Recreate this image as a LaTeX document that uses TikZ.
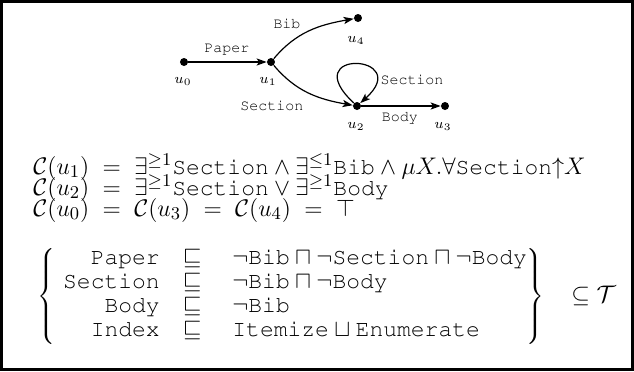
\documentclass[tikz,border=0pt]{standalone}
\usetikzlibrary{arrows.meta}
\newcommand\cw[1]{\mbox{\fontencoding{T1}\fontfamily{pcr}\fontsize{11.5}{12}\selectfont #1}}
\newcommand\cl[1]{\mbox{\fontencoding{T1}\fontfamily{pcr}\selectfont #1}}
\begin{document}
\begin{tikzpicture}[x=0.5pt,y=-0.5pt,
  dot/.style={circle,fill=black,inner sep=0pt,minimum size=4pt},
  edge/.style={line width=0.6pt,-{Stealth[length=5pt,width=3.6pt,inset=1.2pt]}},
  lbl/.style={inner sep=0pt,font=\fontsize{7.5}{9}\selectfont},
  eq/.style={inner sep=0pt,anchor=base west,font=\fontsize{12.3}{12}\selectfont}]
\useasboundingbox (0,0) rectangle (634,371);
\draw[line width=1.5pt] (1.5,1.5) rectangle (632.5,369.5);
% graph
\node[dot] (u0) at (184,62) {};
\node[dot] (u1) at (271,62) {};
\node[dot] (u4) at (358,18) {};
\node[dot] (u2) at (357,106) {};
\node[dot] (u3) at (445,106) {};
\node[lbl] (l0) at (183,81) {$u_0$};
\node[lbl] (l1) at (268,81) {$u_1$};
\node[lbl] (l4) at (356,40) {$u_4$};
\node[lbl] (l2) at (356,126) {$u_2$};
\node[lbl] (l3) at (443,126) {$u_3$};
\draw[edge] (u0) -- (u1);
\draw[edge] (u1) to[out=50,in=190] (u4);
\draw[edge] (u1) to[out=-50,in=170] (u2);
\draw[edge] (u2) -- (u3);
\draw[edge] (u2) .. controls +(-62,-58) and +(58,-52) .. (u2);
\node[lbl] (ePaper) at (227,49) {\cl{Paper}};
\node[lbl] (eBib) at (287,24) {\cl{Bib}};
\node[lbl] (eSec) at (272,106) {\cl{Section}};
\node[lbl] (eLoop) at (412,80) {\cl{Section}};
\node[lbl] (eBody) at (400,118) {\cl{Body}};
% constraints
\node[eq] (c1) at (33,174) {$\mathcal{C}(u_1)\;=\;\exists^{\geq 1}\cw{Section}\wedge\exists^{\leq 1}\cw{Bib}\wedge\mu X.\forall\cw{Section}{\uparrow}X$};
\node[eq] (c2) at (33,195) {$\mathcal{C}(u_2)\;=\;\exists^{\geq 1}\cw{Section}\vee\exists^{\geq 1}\cw{Body}$};
\node[eq] (c3) at (33,216) {$\mathcal{C}(u_0)\;=\;\mathcal{C}(u_3)\;=\;\mathcal{C}(u_4)\;=\;\top$};
\node[inner sep=0pt,anchor=west,font=\fontsize{12.3}{12}\selectfont] (tbox) at (37,296) {$\left\{\begin{array}{@{\hspace{4pt}}r@{\hspace{11.5pt}}c@{\hspace{15.5pt}}l@{\hspace{0pt}}}
\cw{Paper} & \sqsubseteq & \neg\cw{Bib}\sqcap\neg\cw{Section}\sqcap\neg\cw{Body}\\
\cw{Section} & \sqsubseteq & \neg\cw{Bib}\sqcap\neg\cw{Body}\\
\cw{Body} & \sqsubseteq & \neg\cw{Bib}\\
\cw{Index} & \sqsubseteq & \cw{Itemize}\sqcup\cw{Enumerate}
\end{array}\right\}\hspace{10pt}\subseteq\mathcal{T}$};
\end{tikzpicture}
\end{document}
